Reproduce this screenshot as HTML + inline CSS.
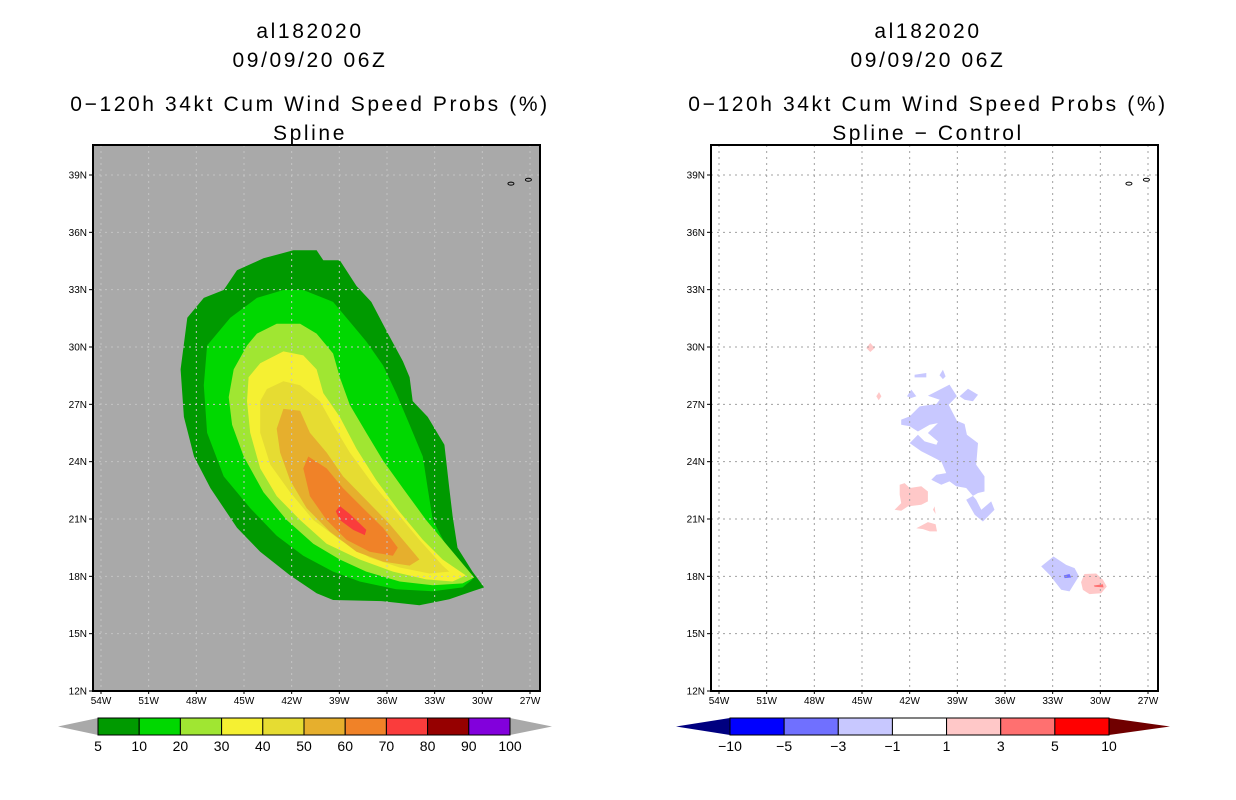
<!DOCTYPE html>
<html><head><meta charset="utf-8"><style>
html,body{margin:0;padding:0;background:#fff;}
svg{display:block;font-family:"Liberation Sans",sans-serif;}
.tt{letter-spacing:2.6px;}
</style></head><body>
<svg id="c" width="1236" height="800" viewBox="0 0 1236 800">
<g font-size="21" text-anchor="middle" fill="#000" class="tt">
<text x="310" y="38">al182020</text><text x="310" y="67">09/09/20 06Z</text>
<text x="310" y="111">0−120h 34kt Cum Wind Speed Probs (%)</text><text x="310" y="140">Spline</text></g>
<g font-size="21" text-anchor="middle" fill="#000" class="tt">
<text x="928" y="38">al182020</text><text x="928" y="67">09/09/20 06Z</text>
<text x="928" y="111">0−120h 34kt Cum Wind Speed Probs (%)</text><text x="928" y="140">Spline − Control</text></g>
</svg>
<script>
const latTicks=[12,15,18,21,24,27,30,33,36,39];
const lonTicks=[-54,-51,-48,-45,-42,-39,-36,-33,-30,-27];
const leftLevels=['5','10','20','30','40','50','60','70','80','90','100'];
const leftColors=['#009a00','#00d800','#a0e632','#f5f032','#e6dc32','#e6af2d','#f08228','#fa3c3c','#960000','#8200dc'];
const rightLevels=['−10','−5','−3','−1','1','3','5','10'];
const rightColors=['#0000ff','#7070ff','#c8c8ff','#ffffff','#ffc8c8','#ff7070','#ff0000'];
// contours (lonW, latN pairs)
const c5=[[41.89,35.06],[40.43,35.06],[40.01,34.54],[38.97,34.54],[37.92,33.19],[36.99,32.36],[35.94,30.70],[35.00,29.25],[34.58,28.42],[34.38,27.17],[33.44,26.34],[32.39,24.89],[32.08,22.61],[31.87,21.16],[31.56,19.50],[30.62,18.25],[29.89,17.42],[30.62,17.22],[32.08,16.80],[33.96,16.49],[36.25,16.70],[39.39,16.76],[40.43,17.11],[42.10,18.05],[43.98,19.29],[45.44,20.54],[47.11,22.61],[48.15,24.27],[48.78,26.34],[48.99,28.83],[48.57,31.53],[47.53,32.57],[46.28,32.98],[45.44,34.02],[43.77,34.64]];
const c10=[[42.52,32.98],[41.27,32.98],[39.39,32.36],[38.34,31.32],[37.30,30.29],[36.25,29.04],[35.42,27.59],[34.58,25.93],[33.75,24.27],[33.44,22.61],[33.12,20.95],[32.08,19.29],[31.04,18.25],[30.62,17.84],[31.24,17.42],[33.12,17.22],[35.42,17.32],[37.72,17.73],[39.39,18.25],[41.27,19.08],[42.94,20.12],[44.61,21.57],[46.28,23.23],[47.32,25.51],[47.53,28.00],[47.32,30.08],[45.86,31.53],[44.19,32.57]];
const c20=[[42.94,31.22],[41.47,31.22],[40.43,30.70],[39.39,29.66],[38.97,28.42],[38.34,26.97],[37.30,25.51],[36.25,24.06],[35.00,22.61],[33.54,20.95],[32.29,19.71],[31.04,18.46],[30.51,17.94],[31.24,17.63],[33.12,17.53],[35.21,17.73],[37.30,18.25],[38.97,18.88],[40.64,19.71],[42.31,20.95],[43.77,22.40],[45.02,24.27],[45.75,25.93],[45.96,27.38],[45.65,28.83],[44.81,30.08],[44.19,30.70]];
const c30=[[42.52,29.77],[41.27,29.56],[40.43,28.83],[40.01,27.59],[38.97,26.34],[37.92,24.68],[36.67,23.02],[35.21,21.37],[33.75,19.91],[32.50,18.88],[31.04,18.05],[31.87,17.73],[33.54,17.84],[35.63,18.25],[37.72,18.88],[39.80,19.71],[41.47,20.95],[42.94,22.20],[43.98,23.65],[44.61,25.51],[44.81,27.17],[44.71,28.42],[43.98,29.15]];
const c40=[[42.52,28.21],[41.47,28.00],[40.22,27.17],[39.39,25.93],[38.34,24.48],[36.88,22.82],[35.42,21.37],[33.96,19.91],[32.50,18.56],[32.08,18.25],[33.33,18.15],[35.21,18.46],[37.09,18.98],[38.97,19.91],[40.64,20.95],[42.10,22.40],[43.35,23.85],[43.98,25.51],[43.98,27.17],[43.56,27.80]];
const c50=[[42.52,26.76],[41.47,26.66],[40.85,25.51],[39.80,24.48],[38.76,23.23],[37.30,21.99],[35.84,20.74],[34.58,19.50],[33.96,18.88],[34.58,18.56],[36.25,18.77],[37.92,19.29],[39.59,20.33],[41.06,21.57],[42.10,23.02],[42.73,24.48],[42.94,25.72]];
const c60=[[40.95,24.27],[39.80,23.65],[38.76,22.61],[37.51,21.57],[36.25,20.54],[35.32,19.50],[35.63,19.08],[37.09,19.29],[38.55,19.91],[39.80,20.95],[40.85,22.20],[41.27,23.65]];
const c70=[[38.97,21.68],[38.34,21.26],[37.30,20.43],[37.40,20.16],[38.13,20.43],[38.97,20.95],[39.22,21.41]];
// difference blobs
const dNeg3a=[[40.85,27.45],[39.49,28.03],[39.03,27.42],[39.55,26.98],[39.03,26.14],[38.54,25.97],[38.40,25.41],[37.70,24.97],[37.81,23.84],[37.29,23.23],[37.29,22.44],[37.70,22.36],[38.44,22.01],[37.91,21.22],[37.39,20.87],[36.66,21.48],[36.87,21.92],[37.49,21.48],[37.81,22.01],[38.44,22.62],[39.07,22.71],[39.49,22.97],[40.01,22.79],[40.64,23.05],[40.32,23.32],[39.70,23.40],[40.01,24.01],[40.43,24.19],[41.27,24.54],[42.00,24.97],[41.48,25.41],[41.06,25.06],[40.32,24.89],[40.22,25.06],[40.85,25.50],[40.22,26.02],[40.74,25.93],[41.48,25.58],[42.00,25.85],[42.53,25.93],[42.53,26.20],[42.00,26.37],[41.37,26.89],[40.32,27.02],[40.11,27.24]];
const dNeg3b=[[38.86,27.42],[38.33,27.82],[37.70,27.50],[38.02,27.16],[38.54,27.24]];
const dNeg3c=[[41.69,28.55],[40.95,28.64],[40.95,28.41],[41.69,28.41]];
const dNeg3d=[[39.91,28.81],[39.74,28.46],[39.91,28.32],[40.12,28.52]];
const dNeg3e=[[41.90,27.77],[41.58,27.42],[41.90,27.33],[42.17,27.42]];
const dNeg3f=[[33.72,18.52],[32.95,19.04],[32.15,18.60],[31.62,18.43],[31.35,18.00],[31.94,17.21],[32.46,17.30],[33.20,18.08]];
const dNeg5a=[[32.30,18.05],[31.94,18.12],[31.83,17.94],[32.25,17.91]];
const dPos1a=[[42.63,22.79],[42.32,22.88],[42.00,22.62],[41.27,22.71],[40.85,22.44],[40.85,21.92],[41.27,21.75],[42.11,21.66],[42.53,21.43],[42.95,21.48],[42.53,21.83],[42.63,22.27]];
const dPos1b=[[41.58,20.52],[40.85,20.84],[40.37,20.73],[40.28,20.35],[40.74,20.35],[41.16,20.47]];
const dPos1c=[[44.73,29.95],[44.48,30.21],[44.20,29.95],[44.48,29.74]];
const dPos1d=[[44.10,27.42],[43.93,27.64],[43.78,27.42],[43.95,27.21]];
const dPos1e=[[40.53,21.48],[40.43,21.66],[40.37,21.26]];
const dPos1f=[[31.21,17.70],[31.00,18.12],[30.26,18.15],[29.84,17.82],[29.59,17.47],[29.95,17.12],[30.68,17.07],[31.10,17.29]];
const dPos5a=[[30.41,17.52],[29.84,17.59],[29.80,17.42],[30.36,17.45]];

const NS='http://www.w3.org/2000/svg';
const svg=document.getElementById('c');
function mk(tag,attrs,parent){const e=document.createElementNS(NS,tag);for(const k in attrs)e.setAttribute(k,attrs[k]);(parent||svg).appendChild(e);return e;}
const TOP=145,BOT=691;
function yS(lat){return 175+(39-lat)*(516/27);}
function makeX(x54){return lonW=>x54+(54-lonW)*(429/27);}
function poly(pts,xs,fill,g,name){
  const p=mk('polygon',{points:pts.map(q=>xs(q[0]).toFixed(1)+','+yS(q[1]).toFixed(1)).join(' '),fill:fill},g);
  
  
}
function panel(x0,x1,bg,name){
  const g=mk('g',{});
  
  
  mk('rect',{x:x0,y:TOP,width:x1-x0,height:BOT-TOP,fill:bg},g);
  return g;
}
function axes(g,x0,x1,xs,gridCol){
  latTicks.forEach(l=>{const y=yS(l);
    mk('line',{x1:x0,x2:x1,y1:y,y2:y,stroke:gridCol,'stroke-width':1,'stroke-dasharray':'2,4'},g);
    mk('line',{x1:x0-4,x2:x0,y1:y,y2:y,stroke:'#000'},g);
    const t=mk('text',{x:x0-6,y:y+3.5,'font-size':10,'text-anchor':'end'},g);t.textContent=l+'N';
    
    
  });
  lonTicks.forEach(l=>{const x=xs(-l);
    mk('line',{x1:x,x2:x,y1:TOP,y2:BOT,stroke:gridCol,'stroke-width':1,'stroke-dasharray':'2,4'},g);
    mk('line',{x1:x,x2:x,y1:BOT,y2:BOT+3,stroke:'#000'},g);
    const t=mk('text',{x:x,y:BOT+13,'font-size':10,'text-anchor':'middle'},g);t.textContent=(-l)+'W';
    
    
  });
  mk('rect',{x:x0,y:TOP,width:x1-x0,height:BOT-TOP,fill:'none',stroke:'#000','stroke-width':2},g);
  const isl=[[28.2,38.55],[27.1,38.75]];
  isl.forEach(q=>mk('ellipse',{cx:xs(q[0]),cy:yS(q[1]),rx:3,ry:1.5,fill:'none',stroke:'#000','stroke-width':1},g));
}
const xL=makeX(101);
const gL=panel(93,540,'#a9a9a9','left-map');
[c5,c10,c20,c30,c40,c50,c60,c70].forEach((c,i)=>poly(c,xL,leftColors[i],gL,'contour-'+leftLevels[i]));
axes(gL,93,540,xL,'#c4c4c4');
const xR=makeX(719);
const gR=panel(711,1158,'#ffffff','right-map');
[dNeg3a,dNeg3b,dNeg3c,dNeg3d,dNeg3e,dNeg3f].forEach(c=>poly(c,xR,'#c8c8ff',gR,'diff-neg-1-3'));
poly(dNeg5a,xR,'#7070ff',gR,'diff-neg-3-5');
[dPos1a,dPos1b,dPos1c,dPos1d,dPos1e,dPos1f].forEach(c=>poly(c,xR,'#ffc8c8',gR,'diff-pos-1-3'));
poly(dPos5a,xR,'#ff7070',gR,'diff-pos-3-5');
axes(gR,711,1158,xR,'#a0a0a0');
function colorbar(x0,x1,ax0,ax1,colors,labels,lc,rc,name){
  const g=mk('g',{});
  
  
  const y0=718,y1=735,ym=(y0+y1)/2,w=(x1-x0)/colors.length;
  mk('polygon',{points:`${ax0},${ym} ${x0},${y0} ${x0},${y1}`,fill:lc},g);
  mk('polygon',{points:`${ax1},${ym} ${x1},${y0} ${x1},${y1}`,fill:rc},g);
  colors.forEach((c,i)=>{const r=mk('rect',{x:x0+i*w,y:y0,width:w,height:y1-y0,fill:c,stroke:'#000','stroke-width':1},g);
    
    });
  labels.forEach((l,i)=>{const t=mk('text',{x:x0+i*w,y:751,'font-size':14,'text-anchor':'middle'},g);t.textContent=l;
    
    });
}
colorbar(98,510,58,552,leftColors,leftLevels,'#a9a9a9','#a9a9a9','left-colorbar');
colorbar(730,1109,676,1170,rightColors,rightLevels,'#000080','#700000','right-colorbar');
</script>
</body></html>
